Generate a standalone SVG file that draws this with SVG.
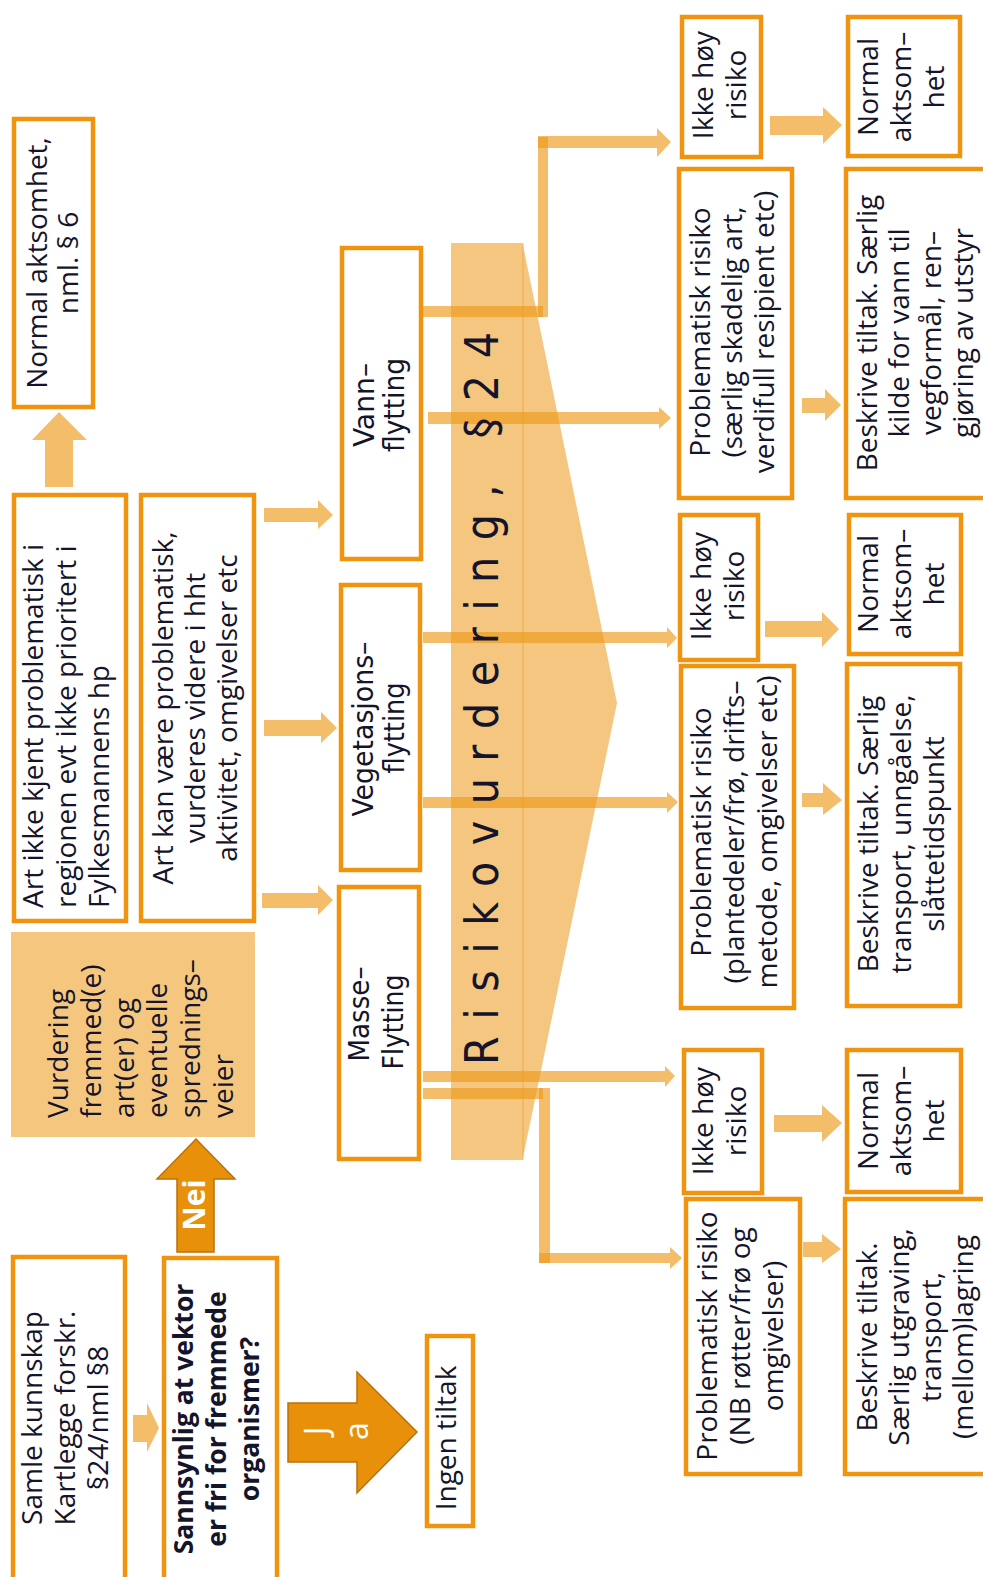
<svg xmlns="http://www.w3.org/2000/svg" width="983" height="1577" viewBox="0 0 983 1577">
<style>
.box{fill:#fff;stroke:#F0940F;stroke-width:4.5}
.lt{fill:#ED9A1A;fill-opacity:0.65}
.sh{fill:#ED9A1A;fill-opacity:0.56}
.dk{fill:#E8900A;stroke:#B8720C;stroke-width:1.5}
.t{font-family:"Open Sans","Noto Sans","DejaVu Sans",sans-serif;font-size:28px;fill:#14142a}
.c{text-anchor:middle}
.s{text-anchor:start}
.b{font-weight:bold;font-size:26.5px}
.n{font-family:"Liberation Sans Narrow","DejaVu Sans Condensed","Liberation Sans",sans-serif;font-size:28px;fill:#14142a;text-anchor:middle}
.w{fill:#fff}
.rk{font-family:"Liberation Sans Narrow","DejaVu Sans Condensed","Liberation Sans",sans-serif;font-size:46px;fill:#14142a}
</style>
<rect x="0" y="0" width="983" height="1577" fill="#fff"/>

<g id="connectors">
  <polygon class="lt" points="264,508 318,508 318,500 333,515 318,529 318,522 264,522"/>
  <polygon class="lt" points="264,720 321,720 321,712 337,728 321,743 321,736 264,736"/>
  <polygon class="lt" points="262,893 318,893 318,885 333,900 318,915 318,908 262,908"/>
  <polygon class="lt" points="45,487 45,440 32,440 59,412 87,440 73,440 73,487"/>
  <polygon class="lt" points="133,1415 147,1415 147,1403 159,1428 147,1452 147,1442 133,1442"/>
  <rect class="lt" x="421" y="306" width="122" height="11"/>
  <rect class="lt" x="538" y="137" width="10" height="180"/>
  <polygon class="lt" points="538,136 657,136 657,128 671,142 657,157 657,148 538,148"/>
  <polygon class="lt" points="428,412 659,412 659,407 671,418 659,429 659,424 428,424"/>
  <polygon class="lt" points="423,632 667,632 667,627 677,638 667,648 667,643 423,643"/>
  <polygon class="lt" points="423,797 667,797 667,792 678,802 667,813 667,808 423,808"/>
  <polygon class="lt" points="423,1071 665,1071 665,1066 675,1076 665,1087 665,1082 423,1082"/>
  <rect class="lt" x="423" y="1088" width="120" height="11"/>
  <rect class="lt" x="539" y="1088" width="11" height="175"/>
  <polygon class="lt" points="539,1253 670,1253 670,1247 682,1258 670,1269 670,1263 539,1263"/>
  <polygon class="lt" points="770,116 823,116 823,107 842,125 823,144 823,135 770,135"/>
  <polygon class="lt" points="802,398 825,398 825,389 841,405 825,421 825,413 802,413"/>
  <polygon class="lt" points="765,621 822,621 822,612 839,629 822,647 822,637 765,637"/>
  <polygon class="lt" points="802,793 823,793 823,783 842,800 823,815 823,807 802,807"/>
  <polygon class="lt" points="774,1115 822,1115 822,1105 842,1123 822,1142 822,1132 774,1132"/>
  <polygon class="lt" points="803,1242 822,1242 822,1234 841,1249 822,1263 822,1257 803,1257"/>
  <polygon class="dk" points="177,1252 177,1179 157,1179 196,1139 235,1179 214,1179 214,1252"/>
  <text class="t w c" style="font-weight:bold;font-size:30px" transform="translate(205,1205) rotate(-90)">Nei</text>
  <polygon class="dk" points="288,1403 357,1403 357,1372 417,1432 357,1493 357,1462 288,1462"/>
  <text class="t w c" style="font-size:32px" transform="translate(328,1431) rotate(-90)">J</text>
  <text class="t w c" style="font-size:32px" transform="translate(368,1431) rotate(-90)">a</text>
</g>

<g id="risikovurdering">
  <rect class="sh" x="451" y="243" width="72.5" height="917"/>
  <polygon class="sh" points="522.5,243 617,703 522.5,1160"/>
  <text class="rk" transform="translate(498,1065) rotate(-90)" textLength="733" lengthAdjust="spacing">Risikovurdering, §24</text>
</g>

<g id="normal-aktsomhet-nml6">
  <rect class="box" x="14" y="119" width="79" height="288"/>
  <text class="t c" transform="translate(47,263) rotate(-90)"><tspan x="0" dy="0">Normal aktsomhet,</tspan><tspan x="0" dy="31">nml. § 6</tspan></text>
</g>

<g id="art-ikke-kjent">
  <rect class="box" x="14" y="495" width="112" height="426"/>
  <text class="t s" transform="translate(43,908) rotate(-90)"><tspan x="0" dy="0">Art ikke kjent problematisk i</tspan><tspan x="0" dy="33">regionen evt ikke prioritert i</tspan><tspan x="0" dy="33">Fylkesmannens hp</tspan></text>
</g>

<g id="art-kan-vaere">
  <rect class="box" x="141" y="495" width="113" height="426"/>
  <text class="t c" transform="translate(173,708) rotate(-90)"><tspan x="0" dy="0">Art kan være problematisk,</tspan><tspan x="0" dy="32">vurderes videre i hht</tspan><tspan x="0" dy="32">aktivitet, omgivelser etc</tspan></text>
</g>

<g id="vurdering">
  <rect x="11" y="932" width="244" height="205" fill="#F5C77E"/>
  <text class="t s" transform="translate(68,1118) rotate(-90)"><tspan x="0" dy="0">Vurdering</tspan><tspan x="0" dy="33">fremmed(e)</tspan><tspan x="0" dy="33">art(er) og</tspan><tspan x="0" dy="33">eventuelle</tspan><tspan x="0" dy="33">sprednings–</tspan><tspan x="0" dy="33">veier</tspan></text>
</g>

<g id="samle-kunnskap">
  <rect class="box" x="13" y="1257" width="112" height="340"/>
  <text class="t c" transform="translate(42,1418) rotate(-90)"><tspan x="0" dy="0">Samle kunnskap</tspan><tspan x="0" dy="33">Kartlegge forskr.</tspan><tspan x="0" dy="33">§24/nml §8</tspan></text>
</g>

<g id="sannsynlig">
  <rect class="box" x="164" y="1258" width="113" height="340"/>
  <text class="t b c" transform="translate(193,1419) rotate(-90)"><tspan x="0" dy="0">Sannsynlig at vektor</tspan><tspan x="0" dy="33">er fri for fremmede</tspan><tspan x="0" dy="33">organismer?</tspan></text>
</g>

<g id="ingen-tiltak">
  <rect class="box" x="427" y="1336" width="46" height="190"/>
  <text class="t c" transform="translate(456,1438) rotate(-90)">Ingen tiltak</text>
</g>

<g id="vannflytting">
  <rect class="box" x="342" y="248" width="79" height="311"/>
  <text class="n" transform="translate(374,405) rotate(-90)" textLength="84" lengthAdjust="spacingAndGlyphs">Vann–</text>
  <text class="n" transform="translate(404,405) rotate(-90)" textLength="94" lengthAdjust="spacingAndGlyphs">flytting</text>
</g>

<g id="vegetasjonsflytting">
  <rect class="box" x="341" y="585" width="79" height="285"/>
  <text class="n" transform="translate(373,729) rotate(-90)" textLength="175" lengthAdjust="spacingAndGlyphs">Vegetasjons–</text>
  <text class="n" transform="translate(404,728) rotate(-90)" textLength="91" lengthAdjust="spacingAndGlyphs">flytting</text>
</g>

<g id="masseflytting">
  <rect class="box" x="339" y="887" width="80" height="272"/>
  <text class="n" transform="translate(369,1014) rotate(-90)" textLength="95" lengthAdjust="spacingAndGlyphs">Masse–</text>
  <text class="n" transform="translate(403,1022) rotate(-90)" textLength="95" lengthAdjust="spacingAndGlyphs">Flytting</text>
</g>

<g id="vann-ikke-hoy">
  <rect class="box" x="682" y="17" width="79" height="140"/>
  <text class="t c" transform="translate(713,85) rotate(-90)"><tspan x="0" dy="0">Ikke høy</tspan><tspan x="0" dy="33">risiko</tspan></text>
</g>
<g id="vann-normal">
  <rect class="box" x="848" y="17" width="112" height="139"/>
  <text class="t c" transform="translate(878,87) rotate(-90)"><tspan x="0" dy="0">Normal</tspan><tspan x="0" dy="33">aktsom–</tspan><tspan x="0" dy="33">het</tspan></text>
</g>
<g id="vann-problematisk">
  <rect class="box" x="679" y="169" width="113" height="329"/>
  <text class="t c" transform="translate(710,332) rotate(-90)"><tspan x="0" dy="0">Problematisk risiko</tspan><tspan x="0" dy="32">(særlig skadelig art,</tspan><tspan x="0" dy="32">verdifull resipient etc)</tspan></text>
</g>
<g id="vann-tiltak">
  <rect class="box" x="846" y="169" width="150" height="329"/>
  <text class="t c" transform="translate(877,333) rotate(-90)"><tspan x="0" dy="0">Beskrive tiltak. Særlig</tspan><tspan x="0" dy="32">kilde for vann til</tspan><tspan x="0" dy="32">vegformål, ren–</tspan><tspan x="0" dy="32">gjøring av utstyr</tspan></text>
</g>

<g id="veg-ikke-hoy">
  <rect class="box" x="680" y="515" width="78" height="145"/>
  <text class="t c" transform="translate(711,586) rotate(-90)"><tspan x="0" dy="0">Ikke høy</tspan><tspan x="0" dy="33">risiko</tspan></text>
</g>
<g id="veg-normal">
  <rect class="box" x="849" y="515" width="112" height="139"/>
  <text class="t c" transform="translate(878,584) rotate(-90)"><tspan x="0" dy="0">Normal</tspan><tspan x="0" dy="33">aktsom–</tspan><tspan x="0" dy="33">het</tspan></text>
</g>
<g id="veg-problematisk">
  <rect class="box" x="681" y="666" width="113" height="342"/>
  <text class="t c" transform="translate(711,832) rotate(-90)"><tspan x="0" dy="0">Problematisk risiko</tspan><tspan x="0" dy="33">(plantedeler/frø, drifts–</tspan><tspan x="0" dy="33">metode, omgivelser etc)</tspan></text>
</g>
<g id="veg-tiltak">
  <rect class="box" x="847" y="664" width="113" height="342"/>
  <text class="t c" transform="translate(878,834) rotate(-90)"><tspan x="0" dy="0">Beskrive tiltak. Særlig</tspan><tspan x="0" dy="33">transport, unngåelse,</tspan><tspan x="0" dy="33">slåttetidspunkt</tspan></text>
</g>

<g id="masse-ikke-hoy">
  <rect class="box" x="684" y="1050" width="78" height="143"/>
  <text class="t c" transform="translate(713,1121) rotate(-90)"><tspan x="0" dy="0">Ikke høy</tspan><tspan x="0" dy="33">risiko</tspan></text>
</g>
<g id="masse-normal">
  <rect class="box" x="847" y="1050" width="114" height="142"/>
  <text class="t c" transform="translate(878,1121) rotate(-90)"><tspan x="0" dy="0">Normal</tspan><tspan x="0" dy="33">aktsom–</tspan><tspan x="0" dy="33">het</tspan></text>
</g>
<g id="masse-problematisk">
  <rect class="box" x="686" y="1199" width="114" height="275"/>
  <text class="t c" transform="translate(717,1336) rotate(-90)"><tspan x="0" dy="0">Problematisk risiko</tspan><tspan x="0" dy="33">(NB røtter/frø og</tspan><tspan x="0" dy="33">omgivelser)</tspan></text>
</g>
<g id="masse-tiltak">
  <rect class="box" x="845" y="1199" width="150" height="275"/>
  <text class="t c" transform="translate(877,1337) rotate(-90)"><tspan x="0" dy="0">Beskrive tiltak.</tspan><tspan x="0" dy="32">Særlig utgraving,</tspan><tspan x="0" dy="32">transport,</tspan><tspan x="0" dy="32">(mellom)lagring</tspan></text>
</g>
</svg>
